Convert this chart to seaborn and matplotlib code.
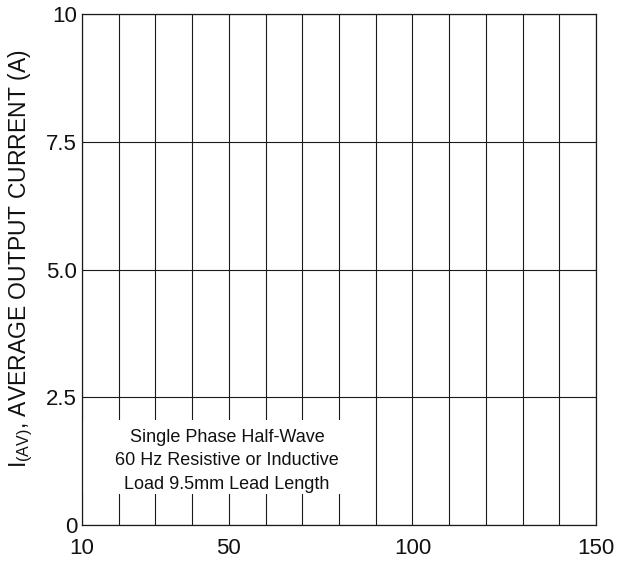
import matplotlib
matplotlib.use("Agg")
import matplotlib.pyplot as plt
import seaborn as sns
from matplotlib.patches import Rectangle

# ---- data (axes only; the chart carries no curve) ----
x_ticks = [10, 20, 30, 40, 50, 60, 70, 80, 90, 100, 110, 120, 130, 140, 150]
x_tick_labels = ["10", "", "", "", "50", "", "", "", "", "100", "", "", "", "", "150"]
y_ticks = [0, 2.5, 5.0, 7.5, 10]
y_tick_labels = ["0", "2.5", "5.0", "7.5", "10"]
y_label = "I$_{(AV)}$, AVERAGE OUTPUT CURRENT (A)"
note_lines = ["Single Phase Half-Wave",
              "60 Hz Resistive or Inductive",
              "Load 9.5mm Lead Length"]

sns.set_theme(style="white")
plt.rcParams["font.family"] = ["Liberation Sans", "DejaVu Sans"]
plt.rcParams["mathtext.default"] = "regular"

fig = plt.figure(figsize=(6.17, 5.64), dpi=100)
ax = fig.add_axes([82 / 617, 1 - 525 / 564, (596 - 82) / 617, (525 - 14) / 564])

ax.set_xlim(x_ticks[0], x_ticks[-1])
ax.set_ylim(y_ticks[0], y_ticks[-1])
ax.set_xticks(x_ticks)
ax.set_xticklabels(x_tick_labels)
ax.set_yticks(y_ticks)
ax.set_yticklabels(y_tick_labels)

ax.grid(True, color="#1a1a1a", linewidth=0.8)
ax.set_axisbelow(True)
for s in ax.spines.values():
    s.set_color("#1a1a1a")
    s.set_linewidth(0.9)

ax.tick_params(axis="both", length=0, labelsize=16, colors="#111111")
ax.tick_params(axis="x", pad=9)
ax.tick_params(axis="y", pad=3.5)

ax.set_ylabel(y_label, fontsize=16.5, color="#111111")
ax.yaxis.set_label_coords(-0.092, 0.522)

# white patch behind the note
ax.add_patch(Rectangle((10, 0.6), 74.5, 1.45, facecolor="white",
                       edgecolor="none", zorder=2))
ax.text(49.5, 1.26, "\n".join(note_lines), ha="center", va="center",
        fontsize=13, linespacing=1.5, color="#111111", zorder=3)

fig.savefig("out.png", dpi=100)
